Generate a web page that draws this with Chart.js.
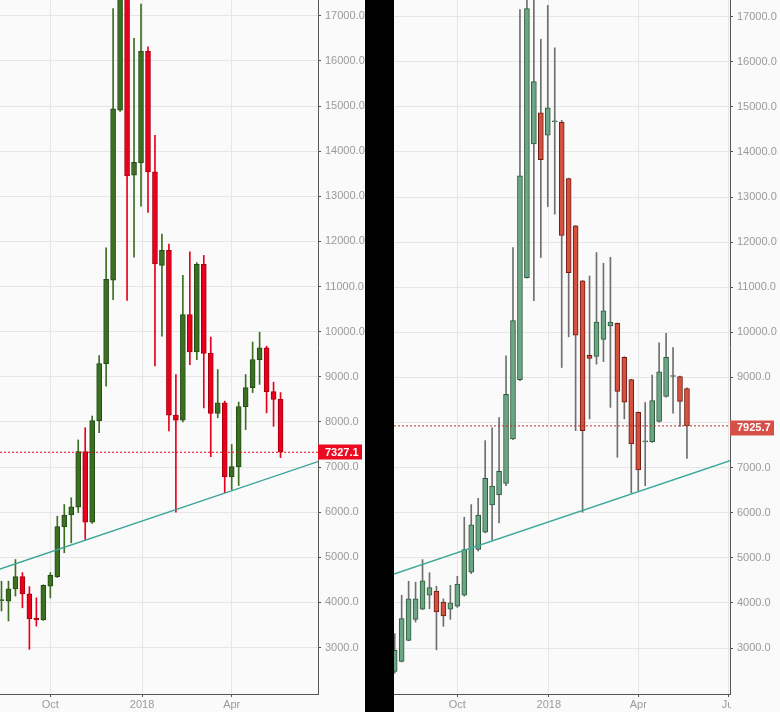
<!DOCTYPE html>
<html>
<head>
<meta charset="utf-8">
<title>BTC weekly</title>
<script src="https://cdn.jsdelivr.net/npm/chart.js@4.4.1/dist/chart.umd.min.js"></script>
<style>
    html, body { margin: 0; padding: 0; background: #fafafa; }
    #wrap { position: relative; width: 780px; height: 712px; overflow: hidden; background: #fafafa; }
    #leftBox { position: absolute; left: 0; top: 0; width: 365px; height: 712px; }
    #rightBox { position: absolute; left: 394px; top: 0; width: 386px; height: 712px; }
    #divider { position: absolute; left: 365px; top: 0; width: 29px; height: 712px; background: #000; }
</style>
</head>
<body>
<div id="wrap">
    <div id="leftBox"><canvas id="leftChart" width="365" height="712"></canvas></div>
    <div id="divider"></div>
    <div id="rightBox"><canvas id="rightChart" width="386" height="712"></canvas></div>
</div>
<script>
// x values are days counted from Sun 1 Oct 2017, one candle per week
var xTickDays = [0, 92, 182, 273];
var xTickLabels = ["Oct", "2018", "Apr", "Jul"];
var yTickValues = [3000, 4000, 5000, 6000, 7000, 8000, 9000, 10000, 11000, 12000, 13000, 14000, 15000, 16000, 17000];

// left chart: weeks from Sun 13 Aug 2017
var leftFirstWeek = -49;
var leftOpen = [4040, 4030, 4300, 4570, 4190, 3650, 3610, 4360, 4570, 5670, 5940, 6110, 7340, 5780, 8030, 9290, 11140, 14910, 18900, 13470, 13740, 16210, 13540, 11470, 11800, 8150, 8040, 10380, 9550, 11490, 9520, 8190, 8420, 6780, 7010, 8340, 8760, 9380, 9640, 8670, 8500];
var leftHigh = [4470, 4470, 4950, 4660, 4350, 4100, 4390, 4660, 5910, 6170, 6320, 7600, 7870, 8130, 9470, 11860, 17160, 19500, 19700, 16500, 17260, 16310, 14350, 12160, 11940, 9050, 11250, 11770, 11530, 11690, 9880, 9160, 8460, 7500, 8440, 9050, 9770, 9990, 9680, 8880, 8650];
var leftLow = [3810, 3590, 4140, 3880, 2960, 3475, 3600, 4100, 4550, 5100, 5320, 5990, 5380, 5750, 7760, 8790, 10710, 14880, 10690, 11650, 12780, 12640, 9240, 9900, 7800, 6000, 8000, 9270, 9380, 8310, 7230, 8090, 6430, 6500, 6590, 7830, 8650, 8830, 8200, 7900, 7210];
var leftClose = [4060, 4300, 4570, 4190, 3640, 3615, 4380, 4600, 5680, 5935, 6120, 7340, 5780, 8030, 9290, 11160, 14940, 18900, 13450, 13750, 16210, 13540, 11500, 11800, 8150, 8040, 10380, 9550, 11490, 9520, 8190, 8420, 6780, 7010, 8340, 8760, 9380, 9640, 8670, 8500, 7327.1];
var leftTrendDays = [-50.5, 268.6];
var leftTrendValues = [4740, 7120];

// right chart: weeks from Sun 30 Jul 2017
var rightFirstWeek = -63;
var rightOpen = [2480, 2705, 3170, 3635, 3860, 4170, 4260, 4020, 3860, 3930, 4170, 4680, 5185, 5570, 6175, 6395, 6650, 7635, 8950, 11210, 14180, 14870, 14370, 14670, 14665, 13410, 12360, 11140, 9490, 9465, 9845, 10140, 10200, 9445, 8950, 8225, 7570, 7575, 8025, 8580, 9020, 9020, 8755];
var rightHigh = [3320, 4170, 4480, 4460, 4960, 4670, 4370, 4090, 4390, 4590, 5900, 6180, 6320, 7600, 7880, 8110, 9480, 11880, 17160, 19500, 19000, 16500, 17250, 16310, 14700, 13420, 12370, 11150, 11250, 11770, 11530, 11665, 10210, 9460, 8960, 8235, 8445, 9050, 9770, 9980, 9660, 9030, 8770];
var rightLow = [2440, 2690, 3160, 3576, 3850, 3870, 2960, 3480, 3635, 3900, 4150, 4650, 5150, 5550, 5385, 5775, 6600, 7620, 8930, 11200, 10700, 11660, 12790, 12620, 9220, 9900, 7820, 6010, 8080, 9295, 9350, 8335, 7230, 8080, 6440, 6490, 6600, 7560, 8010, 8565, 8210, 7915, 7205];
var rightClose = [2950, 3650, 4090, 4090, 4490, 4340, 3800, 3710, 4000, 4420, 5180, 5730, 5950, 6760, 6590, 6920, 8625, 10260, 13470, 17180, 15560, 13830, 14980, 14680, 12150, 11325, 9935, 7820, 9420, 10230, 10475, 10230, 8690, 8450, 7525, 6950, 7585, 8485, 9125, 9445, 9030, 8470, 7925.7];
var rightTrendDays = [-63.7, 274.3];
var rightTrendValues = [4640, 7155];

var fontFamily = "'Liberation Sans', Arial, sans-serif";

$ready();

function $ready() {
    drawPanel("leftChart", {
        firstWeek: leftFirstWeek,
        open: leftOpen, high: leftHigh, low: leftLow, close: leftClose,
        trendDays: leftTrendDays, trendValues: leftTrendValues,
        xMin: -50.5, xMax: 268.6, yMin: 1970, yMax: 17350, axisWidth: 47,
        upFill: "#3b6f22", upEdge: "#244d14", downFill: "#e8001c", downEdge: "#a3000f",
        upWick: "#3b6f22", downWick: "#e8001c",
        trendColor: "#3aa597", priceColor: "#e8001c", tagColor: "#ec0a22", tagShift: 0,
    });
    drawPanel("rightChart", {
        firstWeek: rightFirstWeek,
        open: rightOpen, high: rightHigh, low: rightLow, close: rightClose,
        trendDays: rightTrendDays, trendValues: rightTrendValues,
        xMin: -63.7, xMax: 274.3, yMin: 1980, yMax: 17370, axisWidth: 50,
        upFill: "#6ba583", upEdge: "#2d5a3c", downFill: "#d4503f", downEdge: "#6e1c12",
        upWick: "#6f6f6f", downWick: "#6f6f6f",
        trendColor: "#3fa99c", priceColor: "#b5322a", tagColor: "#d6504a", tagShift: 2,
    });
}

function drawPanel(canvasId, p) {
    var bodies = [], wicks = [];
    var fill = [], edge = [], wickColor = [];
    for (var i = 0; i < p.open.length; i++) {
        var day = p.firstWeek + 7 * i;
        var up = p.close[i] >= p.open[i];
        bodies.push({ x: day, y: [p.open[i], p.close[i]] });
        wicks.push({ x: day, y: [p.low[i], p.high[i]] });
        fill.push(up ? p.upFill : p.downFill);
        edge.push(up ? p.upEdge : p.downEdge);
        wickColor.push(up ? p.upWick : p.downWick);
    }
    var last = p.close[p.close.length - 1];

    var ctx = document.getElementById(canvasId).getContext("2d");
    new Chart(ctx, {
        type: "bar",
        data: {
            datasets: [
                {
                    type: "line",
                    data: [{ x: p.xMin, y: last }, { x: p.xMax, y: last }],
                    borderColor: p.priceColor,
                    borderWidth: 1,
                    borderDash: [2, 2],
                    pointRadius: 0,
                    order: 0,
                },
                {
                    type: "line",
                    data: [
                        { x: p.trendDays[0], y: p.trendValues[0] },
                        { x: p.trendDays[1], y: p.trendValues[1] },
                    ],
                    borderColor: p.trendColor,
                    borderWidth: 1.4,
                    pointRadius: 0,
                    order: 1,
                },
                {
                    data: bodies,
                    backgroundColor: fill,
                    borderColor: edge,
                    borderWidth: 1,
                    borderSkipped: false,
                    barThickness: 5,
                    minBarLength: 1,
                    grouped: false,
                    order: 2,
                },
                {
                    data: wicks,
                    backgroundColor: wickColor,
                    borderWidth: 0,
                    barThickness: 1,
                    grouped: false,
                    order: 3,
                },
            ],
        },
        options: {
            responsive: false,
            animation: false,
            layout: { padding: 0 },
            plugins: { legend: { display: false }, tooltip: { enabled: false } },
            scales: {
                x: {
                    type: "linear",
                    min: p.xMin,
                    max: p.xMax,
                    offset: false,
                    grid: { offset: false, color: "#e6e6e6", tickLength: 3, tickColor: "#555" },
                    border: { color: "#555", width: 1 },
                    ticks: {
                        color: "#9a9a9a",
                        font: { family: fontFamily, size: 11 },
                        padding: 1,
                        maxRotation: 0,
                        autoSkip: false,
                        callback: function (value) {
                            return xTickLabels[xTickDays.indexOf(value)];
                        },
                    },
                    afterBuildTicks: function (scale) {
                        scale.ticks = xTickDays
                            .filter(function (d) { return d >= scale.min && d <= scale.max; })
                            .map(function (d) { return { value: d }; });
                    },
                    afterFit: function (scale) {
                        scale.height = 18;
                        scale.paddingLeft = 0;
                        scale.paddingRight = 0;
                    },
                },
                y: {
                    position: "right",
                    min: p.yMin,
                    max: p.yMax,
                    beginAtZero: false,
                    grid: { color: "#e6e6e6", tickLength: 3, tickColor: "#555" },
                    border: { color: "#555", width: 1 },
                    ticks: {
                        color: "#9a9a9a",
                        font: { family: fontFamily, size: 11 },
                        padding: 4,
                        callback: function (value) {
                            // the price tag hides a label that sits right under it
                            if (Math.abs(value - last) < 250) return "";
                            return value.toFixed(1);
                        },
                    },
                    afterBuildTicks: function (scale) {
                        scale.ticks = yTickValues.map(function (v) { return { value: v }; });
                    },
                    afterFit: function (scale) {
                        scale.width = p.axisWidth;
                        scale.paddingTop = 0;
                        scale.paddingBottom = 0;
                    },
                },
            },
        },
        plugins: [
            {
                // the x labels are cut at the right edge of the plot
                id: "cutLabels",
                afterDraw: function (chart) {
                    var a = chart.chartArea;
                    var c = chart.ctx;
                    c.save();
                    c.fillStyle = "#fafafa";
                    c.fillRect(a.right + 1, a.bottom + 4, chart.width - a.right, chart.height - a.bottom);
                    c.restore();
                },
            },
            {
                // last price tag on the y axis
                id: "priceTag",
                afterDraw: function (chart) {
                    var y = chart.scales.y.getPixelForValue(last) + p.tagShift;
                    var x = chart.chartArea.right;
                    var c = chart.ctx;
                    c.save();
                    c.fillStyle = p.tagColor;
                    c.fillRect(x, Math.round(y) - 7.5, 44, 15);
                    c.fillStyle = "#ffffff";
                    c.font = "bold 11px " + fontFamily;
                    c.textBaseline = "middle";
                    c.fillText(last.toFixed(1), x + 7, y + 0.5);
                    c.restore();
                },
            },
        ],
    });
}
</script>
</body>
</html>
